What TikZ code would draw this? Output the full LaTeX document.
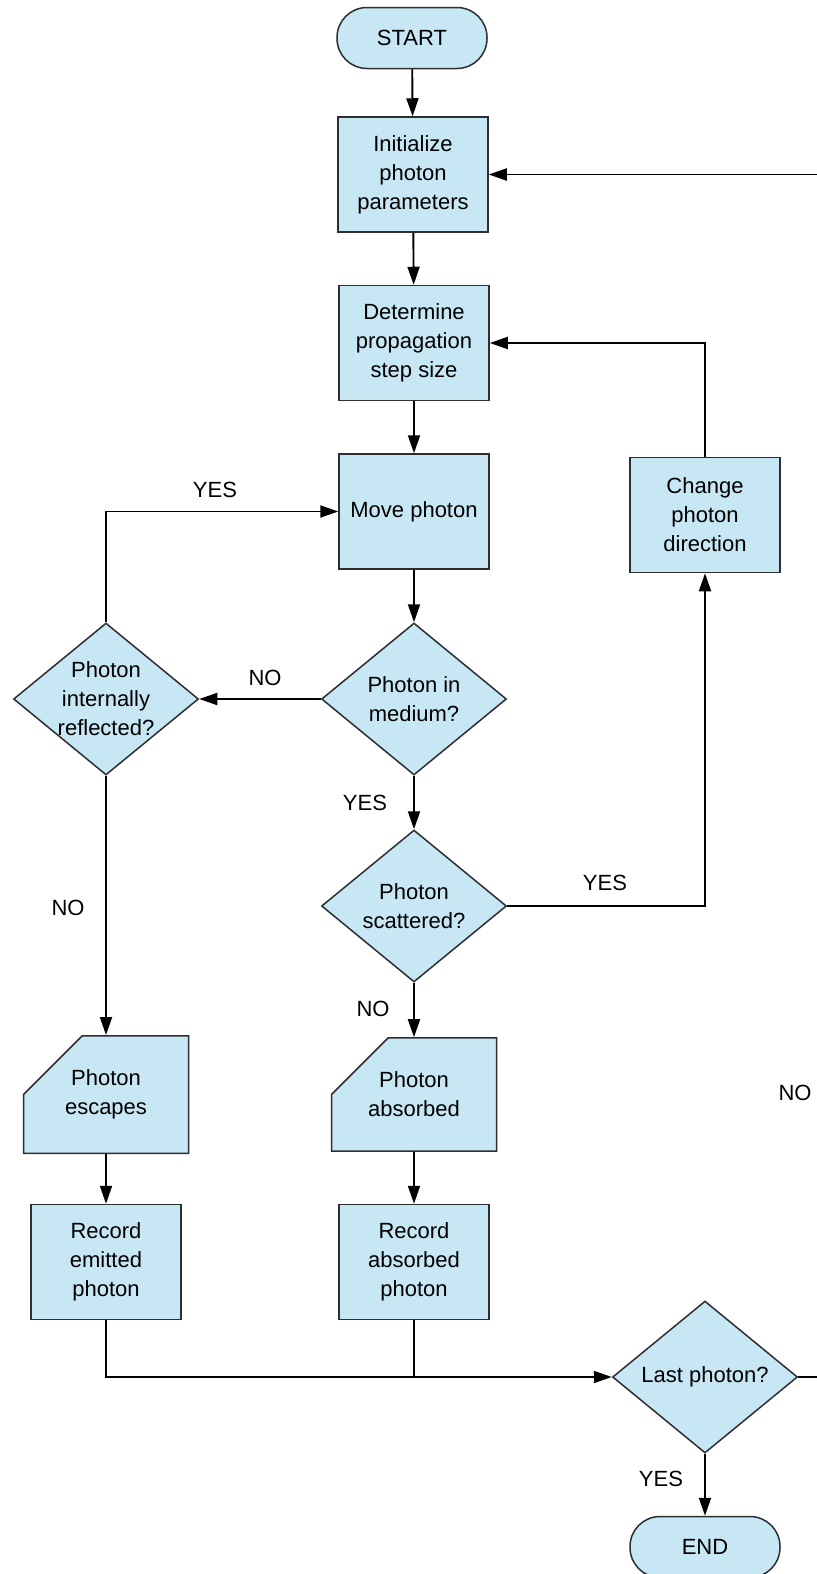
\documentclass[tikz,border=0pt]{standalone}
\usepackage{fontspec}
\setmainfont{Liberation Sans}
\usetikzlibrary{shapes.geometric,shapes.misc,arrows.meta}

\definecolor{boxfill}{RGB}{200,231,245}
\definecolor{boxline}{RGB}{45,45,50}

\begin{document}
\begin{tikzpicture}[x=0.5pt,y=-0.5pt,
  every node/.style={font=\fontsize{11}{14.5}\selectfont, align=center},
  base/.style={draw=boxline, line width=0.75pt, fill=boxfill, inner sep=0pt},
  procbox/.style={base, rectangle, minimum width=75pt, minimum height=57.5pt},
  termbox/.style={base, rectangle, rounded corners=15pt, minimum width=75pt, minimum height=30.5pt},
  decision/.style={base, diamond, inner sep=-3pt, minimum width=92.5pt, minimum height=76pt},
  card/.style={base, chamfered rectangle, chamfered rectangle corners=north west,
    chamfered rectangle xsep=19.5pt, chamfered rectangle ysep=18.5pt,
    inner ysep=-1.5pt, minimum width=82.5pt, minimum height=53.5pt},
  flow/.style={line width=0.95pt, -{Triangle[length=9pt,width=6pt]}},
  joinline/.style={line width=0.95pt},
  lbl/.style={inner sep=0pt}
]
\useasboundingbox (0,0) rectangle (817,1574);
\clip (0,0) rectangle (817,1574);

% shapes
\node[termbox] (start) at (412,38) {START};
\node[procbox] (init) at (413,174.5) {Initialize\\photon\\parameters};
\node[procbox] (det) at (414,343) {Determine\\propagation\\step size};
\node[procbox] (move) at (414,511.5) {Move photon};
\node[procbox] (change) at (705,515) {Change\\photon\\direction};
\node[decision] (med) at (414,699) {Photon in\\medium?};
\node[decision] (refl) at (106,699) {Photon\\internally\\reflected?};
\node[decision] (scat) at (414,906) {Photon\\scattered?};
\node[card] (esc) at (106,1094.5) {Photon\\escapes};
\node[card] (abs) at (414,1094.5) {Photon\\absorbed};
\node[procbox] (recE) at (106,1262) {Record\\emitted\\photon};
\node[procbox] (recA) at (414,1262) {Record\\absorbed\\photon};
\node[decision] (last) at (705,1377) {Last photon?};
\node[termbox] (end) at (705,1547) {END};

% corner points of the routed connectors
\coordinate (reflUp) at (106,511.5);
\coordinate (scatRight) at (705,906);
\coordinate (changeUp) at (705,343);
\coordinate (emitDown) at (106,1377);
\coordinate (absDown) at (414,1377);
\coordinate (loopLow) at (835,1377);
\coordinate (loopHigh) at (835,174.5);

% connectors
\draw[flow] (start) -- (init);
\draw[flow] (init) -- (det);
\draw[flow] (det) -- (move);
\draw[flow] (move) -- (med);
\draw[flow] (med.west) -- (refl.east);
\draw[flow] (refl.north) -- (reflUp) -- (move.west);
\draw[flow] (med.south) -- (scat.north);
\draw[flow] (scat.east) -- (scatRight) -- (change.south);
\draw[flow] (change.north) -- (changeUp) -- (det.east);
\draw[flow] (scat.south) -- (abs.north);
\draw[flow] (refl.south) -- (esc.north);
\draw[flow] (esc) -- (recE);
\draw[flow] (abs) -- (recA);
\draw[flow] (recE.south) -- (emitDown) -- (last.west);
\draw[joinline] (recA.south) -- (absDown);
\draw[flow] (last.east) -- (loopLow) -- (loopHigh) -- (init.east);
\draw[flow] (last.south) -- (end.north);

% branch labels
\node[lbl] (lNo1) at (265,678) {NO};
\node[lbl] (lYes1) at (215,490) {YES};
\node[lbl] (lYes2) at (365,803) {YES};
\node[lbl] (lYes3) at (605,883) {YES};
\node[lbl] (lNo2) at (373,1009) {NO};
\node[lbl] (lNo3) at (68,908) {NO};
\node[lbl] (lNo4) at (795,1093) {NO};
\node[lbl] (lYes4) at (661,1479) {YES};
\end{tikzpicture}
\end{document}
